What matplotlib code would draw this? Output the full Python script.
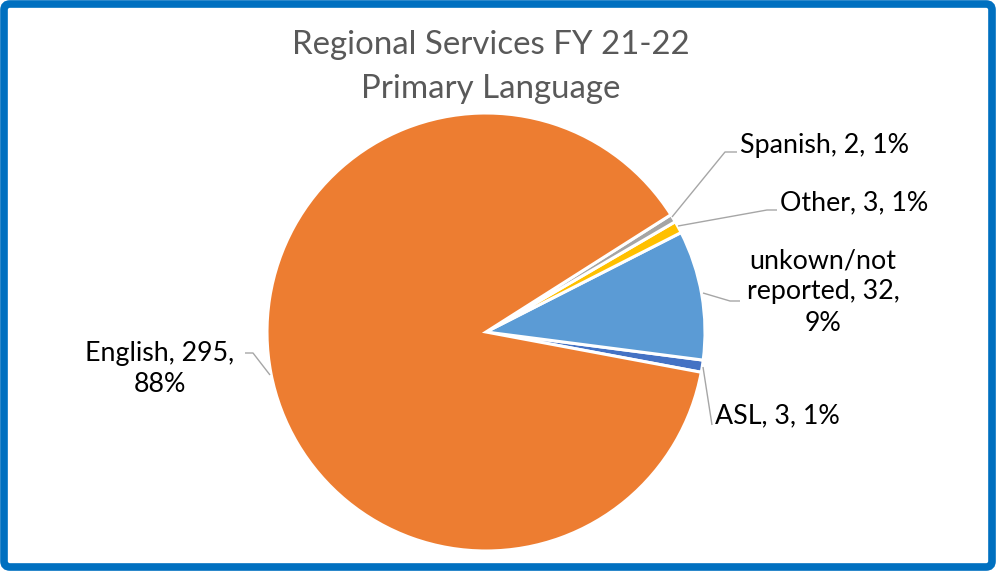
import matplotlib.pyplot as plt
from matplotlib.patches import FancyBboxPatch

# data (counterclockwise from the ASL slice)
labels = ['ASL', 'unkown/not reported', 'Other', 'Spanish', 'English']
counts = [3, 32, 3, 2, 295]
pcts = ['1%', '9%', '1%', '1%', '88%']
colors = ['#4472C4', '#5B9BD5', '#FFC000', '#A5A5A5', '#ED7D31']

W, H = 996, 571
plt.rcParams['font.family'] = ['Lato', 'DejaVu Sans']

fig = plt.figure(figsize=(W / 100, H / 100), dpi=100)
ax = fig.add_axes([0, 0, 1, 1])

cx, cy, r = 486, H - 332, 219
ax.pie(counts, colors=colors, startangle=-10.6, counterclock=True,
       center=(cx, cy), radius=r, frame=True,
       wedgeprops=dict(edgecolor='white', linewidth=2.2))
ax.set_xlim(0, W)
ax.set_ylim(0, H)
ax.set_aspect('equal')
ax.axis('off')

# title
tc = '#595959'
ax.text(491, H - 45, 'Regional Services FY 21-22', ha='center', va='center',
        fontsize=23.8, color=tc)
ax.text(491, H - 89, 'Primary Language', ha='center', va='center',
        fontsize=23.8, color=tc)

# leader lines (pixel coords, y from top)
lc = '#A6A6A6'
leaders = [
    [(672, 217), (725, 152), (737, 152)],
    [(678, 226), (767, 210), (777, 210)],
    [(703, 293), (730, 301), (740, 301)],
    [(703, 367), (712, 425)],
    [(270, 375), (253, 353), (245, 353)],
]
for pts in leaders:
    xs = [p[0] for p in pts]
    ys = [H - p[1] for p in pts]
    ax.plot(xs, ys, color=lc, lw=1.0, solid_capstyle='butt')

fs = 19.3
ls = 1.32
ax.text(740, H - 145, f'{labels[3]}, {counts[3]}, {pcts[3]}', ha='left', va='center', fontsize=fs)
ax.text(780, H - 203, f'{labels[2]}, {counts[2]}, {pcts[2]}', ha='left', va='center', fontsize=fs)
ax.text(823, H - 292, f'unkown/not\nreported, {counts[1]},\n{pcts[1]}', ha='center', va='center',
        fontsize=fs, linespacing=ls)
ax.text(160, H - 369, f'{labels[4]}, {counts[4]},\n{pcts[4]}', ha='center', va='center',
        fontsize=fs, linespacing=ls)
ax.text(715, H - 416, f'{labels[0]}, {counts[0]}, {pcts[0]}', ha='left', va='center', fontsize=fs)

# blue frame
frame = FancyBboxPatch((4, 4), W - 8, H - 8, boxstyle='round,pad=0,rounding_size=6',
                       fill=False, edgecolor='#0070C0', linewidth=5.5)
ax.add_patch(frame)

fig.savefig('out.png', dpi=100)
